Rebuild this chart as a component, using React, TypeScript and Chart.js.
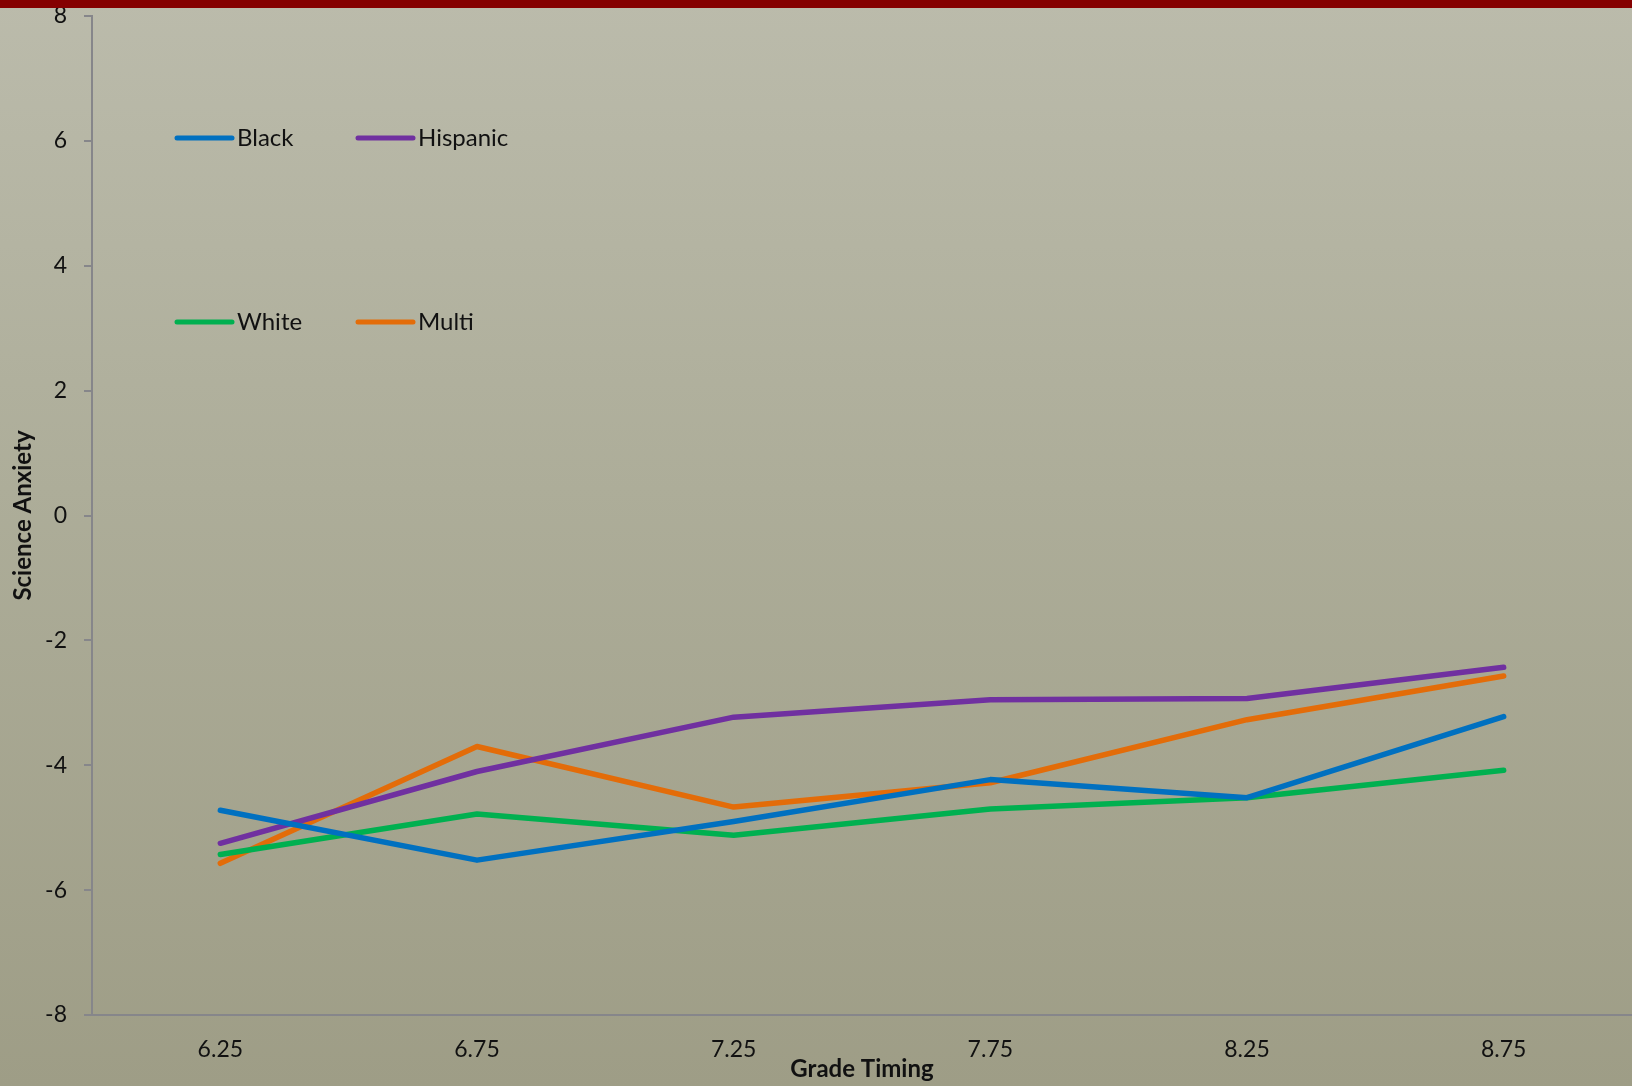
import React, { useEffect, useRef } from "react";
import { Chart, registerables } from "chart.js";

Chart.register(...registerables);

const categories = ["6.25", "6.75", "7.25", "7.75", "8.25", "8.75"];
const blackValues = [-4.72, -5.52, -4.9, -4.23, -4.52, -3.22];
const hispanicValues = [-5.25, -4.1, -3.23, -2.95, -2.93, -2.43];
const whiteValues = [-5.43, -4.78, -5.12, -4.7, -4.52, -4.08];
const multiValues = [-5.57, -3.7, -4.67, -4.28, -3.27, -2.57];
const seriesNames = ["Black", "Hispanic", "White", "Multi"];
const seriesColors = ["#0070c0", "#7030a0", "#00b050", "#e36c09"];
const yTicks = [-8, -6, -4, -2, 0, 2, 4, 6, 8];

const FONT = "Lato, 'Open Sans', sans-serif";

const legendPlugin = {
  id: "customLegend",
  afterDraw(chart: any) {
    const ctx = chart.ctx;
    const pos = [
      { x: 177, y: 138 },
      { x: 358, y: 138 },
      { x: 177, y: 322 },
      { x: 358, y: 322 },
    ];
    ctx.save();
    chart.data.datasets.forEach((ds: any, i: number) => {
      const p = pos[i];
      ctx.strokeStyle = ds.borderColor;
      ctx.lineWidth = 5;
      ctx.lineCap = "round";
      ctx.beginPath();
      ctx.moveTo(p.x, p.y);
      ctx.lineTo(p.x + 55, p.y);
      ctx.stroke();
      ctx.fillStyle = "#111";
      ctx.font = `24px ${FONT}`;
      ctx.textBaseline = "middle";
      ctx.textAlign = "left";
      ctx.fillText(ds.label, p.x + 60, p.y);
    });
    ctx.restore();
  },
};

export default function App() {
  const canvasRef = useRef<HTMLCanvasElement | null>(null);

  useEffect(() => {
    document.body.style.margin = "0";
    const values = [blackValues, hispanicValues, whiteValues, multiValues];
    const chart = new Chart(canvasRef.current as HTMLCanvasElement, {
      type: "line",
      data: {
        labels: categories,
        datasets: seriesNames.map((name, i) => ({
          label: name,
          data: values[i],
          borderColor: seriesColors[i],
          backgroundColor: seriesColors[i],
          borderWidth: 5.5,
          pointRadius: 0,
          tension: 0,
          borderCapStyle: "round" as const,
          borderJoinStyle: "round" as const,
        })),
      },
      options: {
        responsive: false,
        animation: false,
        layout: { padding: { top: 16, right: 0, left: 0, bottom: 0 } },
        plugins: {
          legend: { display: false },
          tooltip: { enabled: false },
        },
        scales: {
          x: {
            offset: true,
            grid: { display: true, drawOnChartArea: false, drawTicks: false },
            border: { display: true, color: "#86868a", width: 2 },
            ticks: {
              color: "#111",
              font: { family: FONT, size: 23 },
              padding: 21,
              maxRotation: 0,
            },
            title: {
              display: true,
              text: "Grade Timing",
              color: "#111",
              font: { family: FONT, size: 24, weight: "bold" },
              padding: { top: 0, bottom: 2 },
            },
            afterFit(scale: any) {
              scale.height = 71;
              scale.paddingLeft = 0;
              scale.paddingRight = 0;
            },
          },
          y: {
            min: -8,
            max: 8,
            afterBuildTicks(scale: any) {
              scale.ticks = yTicks.map((v) => ({ value: v }));
            },
            grid: { display: true, drawOnChartArea: false, drawTicks: true, tickLength: 8, color: "#86868a", lineWidth: 2 },
            border: { display: true, color: "#86868a", width: 2 },
            ticks: {
              color: "#111",
              font: { family: FONT, size: 23 },
              padding: 17,
            },
            title: {
              display: true,
              text: "Science Anxiety",
              color: "#111",
              font: { family: FONT, size: 24, weight: "bold" },
              padding: { top: 9, bottom: 0 },
            },
            afterFit(scale: any) {
              scale.width = 92;
              scale.paddingTop = 0;
              scale.paddingBottom = 0;
            },
          },
        },
      },
      plugins: [legendPlugin],
    });
    return () => chart.destroy();
  }, []);

  return (
    <div
      style={{
        position: "fixed",
        left: 0,
        top: 0,
        width: 1632,
        height: 1086,
        background: "linear-gradient(180deg, #bbbbab 0%, #adad99 45%, #9e9d86 100%)",
        overflow: "hidden",
      }}
    >
      <canvas ref={canvasRef} width={1632} height={1086} style={{ display: "block" }} />
      <div
        style={{
          position: "absolute",
          left: 0,
          top: 0,
          width: 1632,
          height: 8,
          background: "#850000",
        }}
      />
    </div>
  );
}
